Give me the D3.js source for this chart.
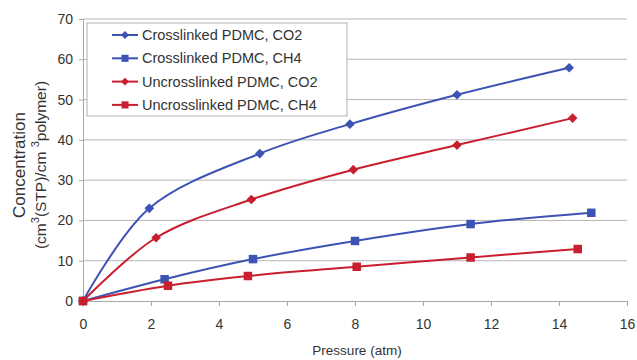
<!DOCTYPE html>
<html>
<head>
<meta charset="utf-8">
<script src="https://cdn.jsdelivr.net/npm/d3@7"></script>
<style>
  body { margin: 0; background: #fff; }
  text { font-family: "Liberation Sans", Arial, sans-serif; fill: #333; }
</style>
</head>
<body>
<svg id="chart" width="637" height="360"></svg>
<script>
// data
const seriesNames = ['Crosslinked PDMC, CO2', 'Crosslinked PDMC, CH4', 'Uncrosslinked PDMC, CO2', 'Uncrosslinked PDMC, CH4'];
const xlCO2 = [[0, 0], [1.95, 23], [5.2, 36.6], [7.85, 43.9], [11.0, 51.2], [14.3, 57.9]];
const xlCH4 = [[0, 0], [2.4, 5.4], [5.0, 10.4], [8.0, 14.9], [11.4, 19.1], [14.95, 21.9]];
const uxCO2 = [[0, 0], [2.15, 15.7], [4.95, 25.2], [7.95, 32.6], [11.0, 38.7], [14.4, 45.4]];
const uxCH4 = [[0, 0], [2.5, 3.8], [4.85, 6.2], [8.05, 8.5], [11.4, 10.8], [14.55, 12.9]];
const xTicks = [0, 2, 4, 6, 8, 10, 12, 14, 16];
const yTicks = [0, 10, 20, 30, 40, 50, 60, 70];

const blue = '#3c53b3', red = '#c81e2e';
const series = [
  { name: seriesNames[0], data: xlCO2, color: blue, shape: 'diamond' },
  { name: seriesNames[1], data: xlCH4, color: blue, shape: 'square' },
  { name: seriesNames[2], data: uxCO2, color: red, shape: 'diamond' },
  { name: seriesNames[3], data: uxCH4, color: red, shape: 'square' }
];

const margin = { top: 19, right: 10, bottom: 59, left: 83 };
const width = 627 - margin.left;
const height = 301 - margin.top;

const svg = d3.select('svg#chart');
const g = svg.append('g').attr('transform', `translate(${margin.left},${margin.top})`);

const x = d3.scaleLinear().domain([0, 16]).range([0, width]);
const y = d3.scaleLinear().domain([0, 70]).range([height, 0]);

// horizontal gridlines
g.append('g')
  .selectAll('line')
  .data(yTicks.filter(d => d > 0))
  .enter().append('line')
  .attr('x1', 0).attr('x2', width)
  .attr('y1', d => y(d)).attr('y2', d => y(d))
  .attr('stroke', '#b5b5b5').attr('stroke-width', 1);

// y axis
const yAxis = g.append('g')
  .call(d3.axisLeft(y).tickValues(yTicks).tickSize(4).tickPadding(6));
yAxis.select('.domain').attr('stroke', '#a8a8a8');
yAxis.selectAll('.tick line').attr('stroke', '#a8a8a8');
yAxis.selectAll('text').style('font-size', '14px').attr('fill', '#333');

// x axis
const xAxis = g.append('g')
  .attr('transform', `translate(0,${height})`)
  .call(d3.axisBottom(x).tickValues(xTicks).tickSize(5).tickPadding(13).tickSizeOuter(0));
xAxis.select('.domain').attr('stroke', '#a8a8a8');
xAxis.selectAll('.tick line').attr('stroke', '#a8a8a8');
xAxis.selectAll('text').style('font-size', '14px').attr('fill', '#333');

// axis titles
svg.append('text')
  .attr('x', 357).attr('y', 355)
  .attr('text-anchor', 'middle')
  .style('font-size', '13.5px')
  .text('Pressure (atm)');

const yTitle = svg.append('text')
  .attr('transform', 'translate(0,165) rotate(-90)')
  .attr('text-anchor', 'middle');
yTitle.append('tspan').attr('x', 0).attr('y', 25).style('font-size', '17px').text('Concentration');
const l2 = yTitle.append('tspan').attr('x', 0).attr('y', 46).style('font-size', '15.5px');
l2.append('tspan').text('(cm');
l2.append('tspan').attr('dy', -7).style('font-size', '11px').text('3');
l2.append('tspan').attr('dy', 7).text('(STP)/cm ');
l2.append('tspan').attr('dy', -7).style('font-size', '11px').text('3');
l2.append('tspan').attr('dy', 7).text('polymer)');

// lines
const line = d3.line()
  .x(d => x(d[0]))
  .y(d => y(d[1]))
  .curve(d3.curveCatmullRom.alpha(0.5));

const diamond = d3.symbol().type(d3.symbolDiamond2).size(60);
const square = d3.symbol().type(d3.symbolSquare).size(72);

function marker(sel, s) {
  sel.append('path')
    .attr('d', s.shape === 'diamond' ? diamond() : square())
    .attr('fill', s.color);
}

series.forEach(s => {
  g.append('path')
    .datum(s.data)
    .attr('d', line)
    .attr('fill', 'none')
    .attr('stroke', s.color)
    .attr('stroke-width', 2);
  g.append('g')
    .selectAll('g')
    .data(s.data)
    .enter().append('g')
    .attr('transform', d => `translate(${x(d[0])},${y(d[1])})`)
    .each(function () { marker(d3.select(this), s); });
});

// legend
const legend = svg.append('g').attr('transform', 'translate(87,23)');
legend.append('rect')
  .attr('width', 260).attr('height', 93)
  .attr('fill', '#fff').attr('stroke', '#b0b0b0');
series.forEach((s, i) => {
  const row = legend.append('g').attr('transform', `translate(0,${12 + i * 23.3})`);
  row.append('line')
    .attr('x1', 25).attr('x2', 51)
    .attr('stroke', s.color).attr('stroke-width', 2);
  const m = row.append('g').attr('transform', 'translate(38,0)');
  m.append('path')
    .attr('d', s.shape === 'diamond' ? d3.symbol().type(d3.symbolDiamond2).size(40)() : d3.symbol().type(d3.symbolSquare).size(50)())
    .attr('fill', s.color);
  row.append('text')
    .attr('x', 55).attr('y', 5)
    .style('font-size', '14.5px')
    .attr('fill', '#222')
    .text(s.name);
});
</script>
</body>
</html>
